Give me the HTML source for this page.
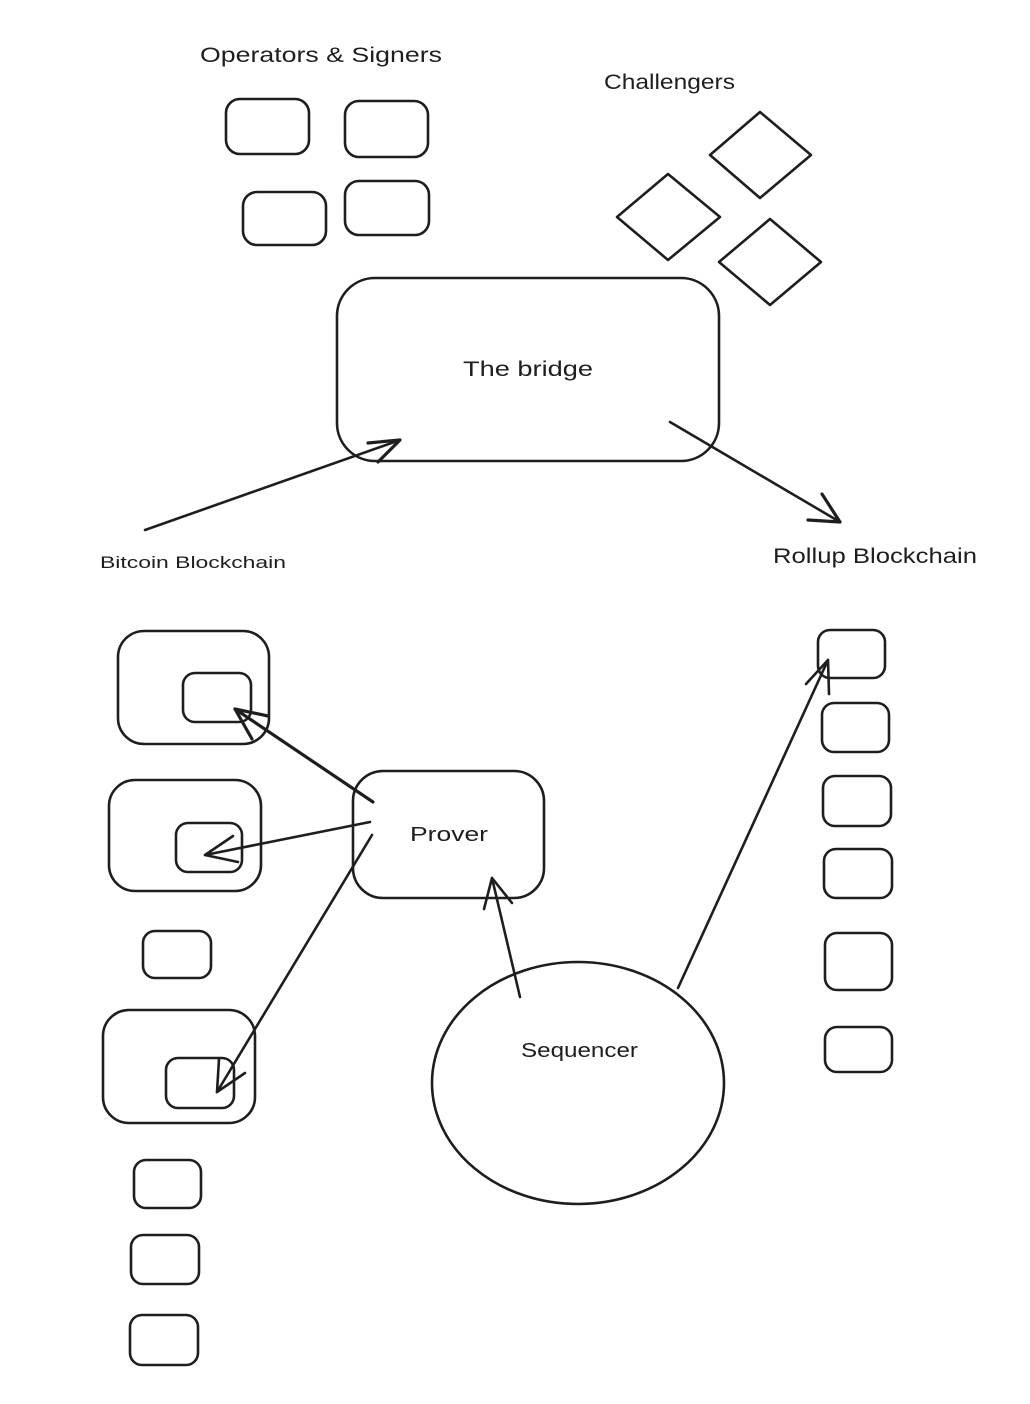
<!DOCTYPE html>
<html><head><meta charset="utf-8"><style>
html,body{margin:0;padding:0;background:#fff;}
svg{display:block;}
text{font-family:"Liberation Sans",sans-serif;fill:#1e1e1e;}
</style></head><body>
<svg width="1030" height="1404" viewBox="0 0 1030 1404" xmlns="http://www.w3.org/2000/svg">
<g fill="none" stroke="#1e1e1e" stroke-width="2.6" stroke-linecap="round" stroke-linejoin="round">
<rect x="226" y="99" width="83" height="55" rx="14"/>
<rect x="345" y="101" width="83" height="56" rx="14"/>
<rect x="243" y="192" width="83" height="53" rx="14"/>
<rect x="345" y="181" width="84" height="54" rx="14"/>
<polygon points="710,155 760,112 811,155 760,198"/>
<polygon points="617,217 668,174 720,217 668,260"/>
<polygon points="719,262 770,219 821,262 770,305"/>
<rect x="337" y="278" width="382" height="183" rx="38"/>
<line x1="145" y1="530" x2="400" y2="440"/>
<polyline points="368,443 400,440 378,462" stroke-width="3.2"/>
<line x1="670" y1="422" x2="840" y2="522"/>
<polyline points="822,494 840,522 808,520" stroke-width="3.2"/>
<rect x="118" y="631" width="151" height="113" rx="26"/>
<rect x="183" y="673" width="68" height="49" rx="12"/>
<rect x="109" y="780" width="152" height="111" rx="26"/>
<rect x="176" y="823" width="66" height="49" rx="12"/>
<rect x="143" y="931" width="68" height="47" rx="12"/>
<rect x="103" y="1010" width="152" height="113" rx="26"/>
<rect x="166" y="1058" width="68" height="50" rx="12"/>
<rect x="134" y="1160" width="67" height="48" rx="12"/>
<rect x="131" y="1235" width="68" height="49" rx="12"/>
<rect x="130" y="1315" width="68" height="50" rx="12"/>
<rect x="353" y="771" width="191" height="127" rx="30"/>
<line x1="373" y1="802" x2="235" y2="709" stroke-width="3.2"/>
<polyline points="268,716 235,709 252,739" stroke-width="3.2"/>
<line x1="370" y1="822" x2="205" y2="855"/>
<polyline points="233,836 205,855 238,862"/>
<line x1="372" y1="835" x2="217" y2="1092"/>
<polyline points="219,1059 217,1092 245,1073"/>
<ellipse cx="578" cy="1083" rx="146" ry="121"/>
<line x1="520" y1="997" x2="492" y2="878"/>
<polyline points="484,909 492,878 512,903"/>
<line x1="678" y1="988" x2="828" y2="660"/>
<polyline points="806,684 828,660 829,694"/>
<rect x="818" y="630" width="67" height="48" rx="12"/>
<rect x="822" y="703" width="67" height="49" rx="12"/>
<rect x="823" y="776" width="68" height="50" rx="12"/>
<rect x="824" y="849" width="68" height="49" rx="12"/>
<rect x="825" y="933" width="67" height="57" rx="12"/>
<rect x="825" y="1027" width="67" height="45" rx="12"/>
</g>
<text x="200" y="62" font-size="21" textLength="242" lengthAdjust="spacingAndGlyphs">Operators &amp; Signers</text>
<text x="604" y="89" font-size="21" textLength="131" lengthAdjust="spacingAndGlyphs">Challengers</text>
<text x="463" y="376" font-size="21" textLength="130" lengthAdjust="spacingAndGlyphs">The bridge</text>
<text x="100" y="568" font-size="17" textLength="186" lengthAdjust="spacingAndGlyphs">Bitcoin Blockchain</text>
<text x="773" y="563" font-size="21" textLength="204" lengthAdjust="spacingAndGlyphs">Rollup Blockchain</text>
<text x="410" y="841" font-size="20" textLength="78" lengthAdjust="spacingAndGlyphs">Prover</text>
<text x="521" y="1057" font-size="20" textLength="117" lengthAdjust="spacingAndGlyphs">Sequencer</text>
</svg>
</body></html>
